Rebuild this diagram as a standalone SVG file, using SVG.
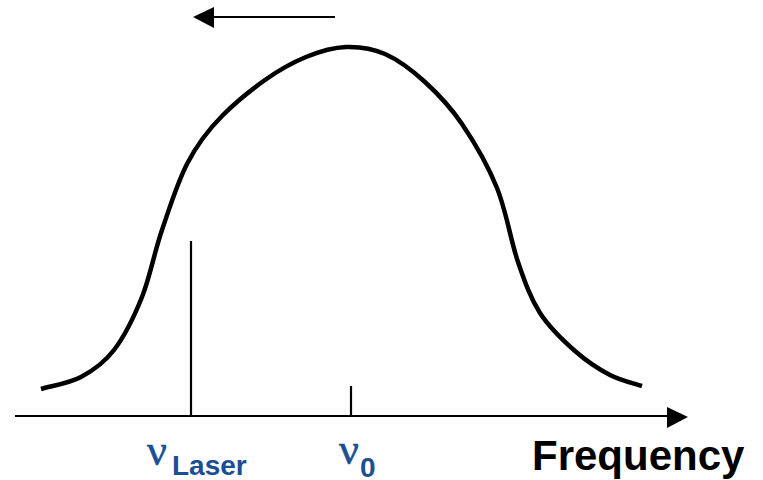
<svg xmlns="http://www.w3.org/2000/svg" width="763" height="480" viewBox="0 0 763 480">
<style>
.ln{stroke:#000;fill:none;stroke-width:2.2}
.curve{stroke:#000;fill:none;stroke-width:4.5;stroke-linecap:butt;stroke-linejoin:round}
.nu{font-family:"Liberation Serif","Times New Roman",serif;font-size:44px;fill:#1c4f91;stroke:#1c4f91;stroke-width:0.6}
.sub{font-family:"Liberation Sans",Arial,sans-serif;font-weight:bold;font-size:28px;fill:#1c4f91}
.lbl{font-family:"Liberation Sans",Arial,sans-serif;font-weight:bold;font-size:42px;fill:#000}
</style>
<rect width="763" height="480" fill="#fff"/>
<g id="curve">
<path class="curve" d="M41,389 C51,386 68.8,383.5 81,377 C93.2,370.5 103.8,363.3 114,350 C124.2,336.7 134,317 142,297 C150,277 154.3,252.3 162,230 C169.7,207.7 176.8,184 187,164 C197.2,144 209.2,128.8 223,115 C236.8,101.2 251.2,89.8 265,80 C278.8,70.2 292.5,62.5 306,57 C319.5,51.5 332.8,47.5 346,47 C359.2,46.5 371.8,48.2 385,54 C398.2,59.8 412.2,70.3 425,82 C437.8,93.7 450,106.3 462,124 C474,141.7 487.7,165 497,188 C506.3,211 510.8,241.2 518,262 C525.2,282.8 530.5,298.2 540,313 C549.5,327.8 563.3,340.7 575,351 C586.7,361.3 598.8,369.2 610,375 C621.2,380.8 634,383.3 642,386"/>
</g>
<g id="connectors">
<line class="ln" x1="15" y1="416" x2="669" y2="416"/>
<polygon points="688,417 667,407 667,428" fill="#000"/>
<line class="ln" x1="335" y1="17" x2="212" y2="17"/>
<polygon points="193,17 214,7 214,28" fill="#000"/>
<line class="ln" x1="191" y1="241" x2="191" y2="416" stroke-width="2.5"/>
<line class="ln" x1="351" y1="386" x2="351" y2="416"/>
</g>
<g id="laser-label">
<text x="147" y="465" class="nu">ν</text>
<text x="172" y="475" class="sub">Laser</text>
</g>
<g id="nu0-label">
<text x="339" y="464" class="nu">ν</text>
<text x="360" y="477" class="sub">0</text>
</g>
<g id="freq-label">
<text x="532" y="470" class="lbl">Frequency</text>
</g>
</svg>
